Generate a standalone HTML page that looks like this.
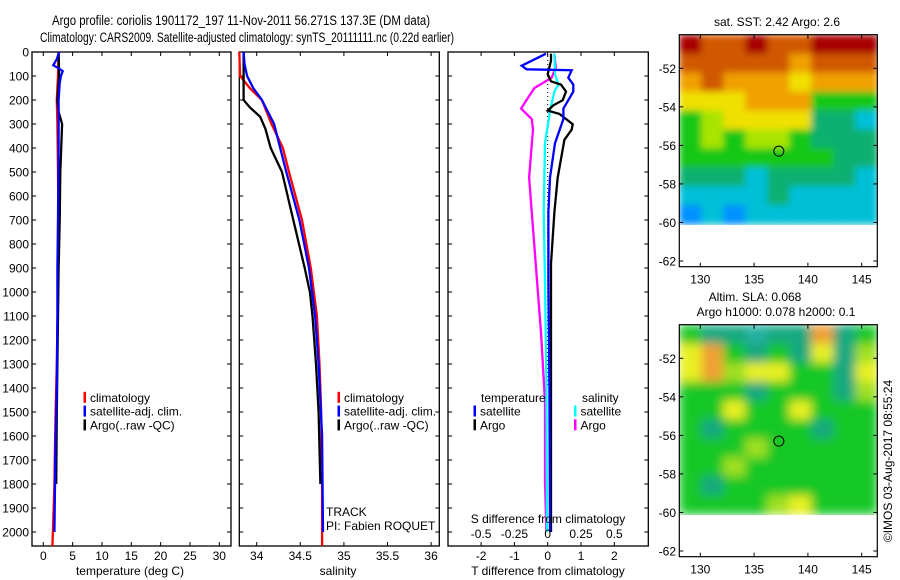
<!DOCTYPE html>
<html><head><meta charset="utf-8"><style>
html,body{margin:0;padding:0;background:#fff;}
svg{display:block;font-family:"Liberation Sans",sans-serif;}
</style></head><body>
<svg id="fig" width="900" height="580" viewBox="0 0 900 580"></svg>
<script>
// ---------- data ----------
const tClimDepth = [0,100,200,300,500,800,1000,1300,1500,1650,1800,1950,2058];
const tClimVal   = [2.6,2.5,2.3,2.4,2.5,2.6,2.5,2.3,2.1,2.0,1.9,1.7,1.55];
const tSatDepth  = [0,30,55,65,80,100,130,200,400,700,900,1100,1400,1600,1800,2000];
const tSatVal    = [2.7,2.3,1.7,2.4,3.3,3.0,2.8,2.6,2.6,2.5,2.4,2.4,2.3,2.1,2.0,1.9];
const tArgoDepth = [0,100,200,250,300,500,700,900,1100,1300,1500,1800];
const tArgoVal   = [2.6,2.7,2.4,2.6,3.2,2.9,2.8,2.6,2.5,2.4,2.3,2.2];

const sClimDepth = [0,100,150,200,300,400,500,700,900,1100,1300,1500,1800,2058];
const sClimVal   = [33.8,33.81,33.92,34.06,34.17,34.3,34.37,34.52,34.62,34.69,34.72,34.74,34.75,34.75];
const sSatDepth  = [0,50,100,150,200,300,500,700,900,1100,1300,1600,2000];
const sSatVal    = [33.85,33.86,33.89,33.96,34.06,34.2,34.34,34.49,34.6,34.67,34.71,34.75,34.76];
const sArgoDepth = [0,100,200,230,270,320,400,500,700,900,1000,1100,1300,1500,1800];
const sArgoVal   = [33.85,33.85,33.85,33.92,34.04,34.1,34.16,34.29,34.42,34.55,34.61,34.64,34.68,34.71,34.73];

const dTSatDepth = [7,57,72,76,107,136,165,201,236,279,380,523,667,953,1383,2000];
const dTSatVal   = [-0.05,-0.78,-0.63,0.72,0.62,0.77,0.77,0.62,0.47,0.47,0.22,0.07,0.02,0.02,0.05,0.07];
const dTArgoDepth = [7,36,93,122,136,165,201,222,244,258,301,323,366,523,667,882,2000];
const dTArgoVal   = [0.1,0.1,0.0,0.1,0.4,0.55,0.45,0.17,0.0,0.35,0.75,0.72,0.5,0.3,0.2,0.1,0.1];
const dSSatDepth = [7,93,136,165,236,380,667,953,1383,2000];
const dSSatVal   = [0.05,0.055,0.08,0.05,0.02,-0.02,-0.03,-0.02,-0.01,-0.005];
const dSArgoDepth = [7,64,107,150,201,236,279,323,523,810,953,1168,1455,1790,2000];
const dSArgoVal   = [0.05,0.06,0.03,-0.1,-0.16,-0.2,-0.12,-0.11,-0.14,-0.1,-0.08,-0.05,-0.02,-0.02,-0.01];

const depthTicks = [0,100,200,300,400,500,600,700,800,900,1000,1100,1200,1300,1400,1500,1600,1700,1800,1900,2000];
const tempTicks = [0,5,10,15,20,25,30];
const salTicks = [34,34.5,35,35.5,36];
const salTickLabels = ["34","34.5","35","35.5","36"];
const dTTicks = [-2,-1,0,1,2];
const dSTicks = [-0.5,-0.25,0,0.25,0.5];
const dSTickLabels = ["-0.5","-0.25","0","0.25","0.5"];

const lonTicks = [130,135,140,145];
const latTicks = [-52,-54,-56,-58,-60,-62];
const argoLon = 137.3, argoLat = -56.3;
const sstGrid = [
 [9,8,8,9,8,8,9,9,9],
 [8,8,8,8,8,7,8,8,8],
 [7,8,7,7,7,6,7,7,7],
 [6,6,6,7,7,7,4,4,4],
 [4,5,6,6,6,6,3,3,2],
 [4,5,4,5,5,4,3,3,3],
 [4,4,4,4,4,4,4,3,3],
 [3,3,3,2,3,3,3,3,2],
 [2,2,2,2,3,2,2,2,2],
 [1,2,1,2,2,2,2,2,2]];
const slaGrid = [
 [4,3,3,2,3,3,7,3,4],
 [6,7,4,3,4,3,6,3,5],
 [6,7,5,6,6,4,4,3,6],
 [4,4,4,3,4,4,4,3,5],
 [4,4,6,4,4,6,4,4,4],
 [4,3,4,4,4,4,3,4,4],
 [4,4,4,5,4,4,4,4,4],
 [4,4,5,4,4,4,4,4,4],
 [4,3,4,4,4,4,4,4,4],
 [4,4,4,4,5,6,4,4,4]];
const palette = ['#0030ff','#0090ff','#00c0d8','#10b070','#18c818','#a8e400','#f0e000','#f0a000','#d05800','#a80000'];
const slaPalette = ['#0030ff','#30b8d0','#20b0a0','#18a880','#18c828','#a0e020','#e8f020','#f0a030','#e07020','#c04000'];

// ---------- helpers ----------
const NS="http://www.w3.org/2000/svg";
const svg=document.getElementById('fig');
function mk(tag,attrs,parent){const e=document.createElementNS(NS,tag);for(const k in attrs)e.setAttribute(k,attrs[k]);(parent||svg).appendChild(e);return e;}
function txt(s,x,y,anchor,size,parent){const t=mk('text',{x:x,y:y,'text-anchor':anchor||'middle','font-size':size||12,fill:'#000'},parent);t.textContent=s;return t;}

const TOP=52, DPX=0.24;
const yD=d=>TOP+d*DPX;
const P1={l:32,r:231}, P2={l:239.3,r:439.3}, P3={l:448,r:648.3};
const BOT=546;
const xT=v=>43.3+v*5.867;
const xS=v=>256.7+(v-34)*87.2;
const xDT=v=>547.7+v*33.3;
const xDS=v=>547.7+v*133.2;

function frame(p,name){
  const r=mk('rect',{x:p.l,y:TOP,width:p.r-p.l,height:BOT-TOP,fill:'none',stroke:'#000','stroke-width':1.3});
  
  
  depthTicks.forEach(d=>{mk('line',{x1:p.l,x2:p.l+4,y1:yD(d),y2:yD(d),stroke:'#000'});mk('line',{x1:p.r-4,x2:p.r,y1:yD(d),y2:yD(d),stroke:'#000'});});
}
function line(depths,vals,xf,color,name,w){
  const pts=depths.map((d,i)=>xf(vals[i]).toFixed(1)+','+yD(d).toFixed(1)).join(' ');
  const pl=mk('polyline',{points:pts,fill:'none',stroke:color,'stroke-width':w||2.3,'stroke-linejoin':'miter'});
  
  
}
function xticks(ticks,labels,xf,p,ylab,name){
  const g=mk('g',{});
  
  
  ticks.forEach((v,i)=>{const x=xf(v);
    mk('line',{x1:x,x2:x,y1:BOT,y2:BOT-4,stroke:'#000'},g);
    mk('line',{x1:x,x2:x,y1:TOP,y2:TOP+4,stroke:'#000'},g);
    txt(labels?labels[i]:String(v),x,ylab,'middle',12,g);});
}
function legend(x,y,items,name){
  const g=mk('g',{});
  
  
  items.forEach((it,i)=>{const yy=y+i*13.8;
    mk('rect',{x:x,y:yy-6,width:2.5,height:11,fill:it[1]},g);
    txt(it[0],x+6.5,yy+4,'start',12,g);});
}

// ---------- title ----------
const t1=txt('Argo profile: coriolis 1901172_197 11-Nov-2011 56.271S 137.3E (DM data)',241,25,'middle',13.5);
t1.setAttribute('textLength','378');t1.setAttribute('lengthAdjust','spacingAndGlyphs');


const t2=txt('Climatology: CARS2009. Satellite-adjusted climatology: synTS_20111111.nc (0.22d earlier)',247,42,'middle',13.5);
t2.setAttribute('textLength','414');t2.setAttribute('lengthAdjust','spacingAndGlyphs');



// ---------- panel 1 ----------
frame(P1,'temperature-panel');
const yl=mk('g',{});


depthTicks.forEach(d=>txt(String(d),29,yD(d)+4.5,'end',12,yl));
xticks(tempTicks,null,xT,P1,560,'temperature-x-ticks');
line(tClimDepth,tClimVal,xT,'#ff0000','temp-climatology-line');
line(tArgoDepth,tArgoVal,xT,'#000000','temp-argo-line');
line(tSatDepth,tSatVal,xT,'#0000ff','temp-satellite-line');
const xl1=txt('temperature (deg C)',130,575,'middle',12);


legend(83.5,397.8,[['climatology','#ff0000'],['satellite-adj. clim.','#0000ff'],['Argo(..raw -QC)','#000']],'temperature-legend');

// ---------- panel 2 ----------
frame(P2,'salinity-panel');
xticks(salTicks,salTickLabels,xS,P2,560,'salinity-x-ticks');
line(sClimDepth,sClimVal,xS,'#ff0000','sal-climatology-line');
line(sArgoDepth,sArgoVal,xS,'#000000','sal-argo-line');
line(sSatDepth,sSatVal,xS,'#0000ff','sal-satellite-line');
const xl2=txt('salinity',338,575,'middle',12);


legend(337.5,397.8,[['climatology','#ff0000'],['satellite-adj. clim.','#0000ff'],['Argo(..raw -QC)','#000']],'salinity-legend');
const tr=txt('TRACK',326,516,'start',12);


const pi=txt('PI: Fabien ROQUET',326,530,'start',12);



// ---------- panel 3 ----------
frame(P3,'difference-panel');
xticks(dTTicks,null,xDT,P3,560,'t-diff-x-ticks');
const zl=mk('line',{x1:xDT(0),x2:xDT(0),y1:yD(0),y2:yD(1400),stroke:'#000','stroke-dasharray':'1,3','stroke-width':1});


line(dSArgoDepth,dSArgoVal,xDS,'#ff00ff','s-diff-argo-line');
line(dSSatDepth,dSSatVal,xDS,'#00ffff','s-diff-satellite-line');
line(dTArgoDepth,dTArgoVal,xDT,'#000000','t-diff-argo-line');
line(dTSatDepth,dTSatVal,xDT,'#0000ff','t-diff-satellite-line');
const sg=mk('g',{});


dSTicks.forEach((v,i)=>txt(dSTickLabels[i],xDS(v),538,'middle',12,sg));
const sdl=txt('S difference from climatology',548,523,'middle',12);


const tdl=txt('T difference from climatology',548,575,'middle',12);


const lt=txt('temperature',481,402,'start',12);


const ls=txt('salinity',582,402,'start',12);


legend(473.5,411.5,[['satellite','#0000ff'],['Argo','#000']],'t-diff-legend');
legend(574,411.5,[['satellite','#00ffff'],['Argo','#ff00ff']],'s-diff-legend');

// ---------- maps ----------
const defs=mk('defs',{});
const f1=mk('filter',{id:'bl1',x:'0',y:'0',width:'1',height:'1'},defs);
mk('feGaussianBlur',{stdDeviation:'3.5',edgeMode:'duplicate'},f1);
const f2=mk('filter',{id:'bl2',x:'0',y:'0',width:'1',height:'1'},defs);
mk('feGaussianBlur',{stdDeviation:'5',edgeMode:'duplicate'},f2);

function map(top,grid,pal,name,filt){
  const L=679.3,R=877.3,B=top+232;
  const xL=lon=>700.3+(lon-130)*10.76;
  const yL=lat=>top+33.6+(-52-lat)*19.27;
  const g=mk('g',{});
  
  
  const cg=mk('g',{filter:'url(#'+filt+')'},g);
  const lonMin=128.05,lonMax=146.45,latMax=-50.26,latMin=-60.08;
  const nr=grid.length,nc=grid[0].length;
  const dlon=(lonMax-lonMin)/nc,dlat=(latMax-latMin)/nr;
  grid.forEach((row,i)=>row.forEach((v,j)=>{
    const x0=xL(lonMin+j*dlon),x1=xL(lonMin+(j+1)*dlon),y0=yL(latMax-i*dlat),y1=yL(latMax-(i+1)*dlat);
    mk('rect',{x:x0.toFixed(1),y:y0.toFixed(1),width:(x1-x0+0.6).toFixed(1),height:(y1-y0+0.6).toFixed(1),fill:pal[v]},cg);
  }));
  mk('rect',{x:L,y:top,width:R-L,height:B-top,fill:'none',stroke:'#000','stroke-width':1.2},g);
  lonTicks.forEach(v=>{const x=xL(v);mk('line',{x1:x,x2:x,y1:B,y2:B-4,stroke:'#000'},g);mk('line',{x1:x,x2:x,y1:top,y2:top+4,stroke:'#000'},g);txt(String(v),x,B+17,'middle',12,g);});
  latTicks.forEach(v=>{const y=yL(v);mk('line',{x1:L,x2:L+4,y1:y,y2:y,stroke:'#000'},g);mk('line',{x1:R-4,x2:R,y1:y,y2:y,stroke:'#000'},g);txt(String(v),676,y+4.5,'end',12,g);});
  const c=mk('circle',{cx:xL(argoLon),cy:yL(argoLat),r:5,fill:'none',stroke:'#000','stroke-width':1},g);
  
  
}
map(34.7,sstGrid,palette,'sst-map','bl1');
map(324.7,slaGrid,slaPalette,'sla-map','bl2');
const mt1=txt('sat. SST: 2.42 Argo: 2.6',777,26,'middle',12);


const mt2=txt('Altim. SLA: 0.068',755,301,'middle',12);


const mt3=txt('Argo h1000: 0.078 h2000: 0.1',776,316,'middle',12);


const cr=txt('©IMOS 03-Aug-2017 08:55:24',0,0,'middle',12);
cr.setAttribute('transform','translate(892,461) rotate(-90)');


</script>
</body></html>
